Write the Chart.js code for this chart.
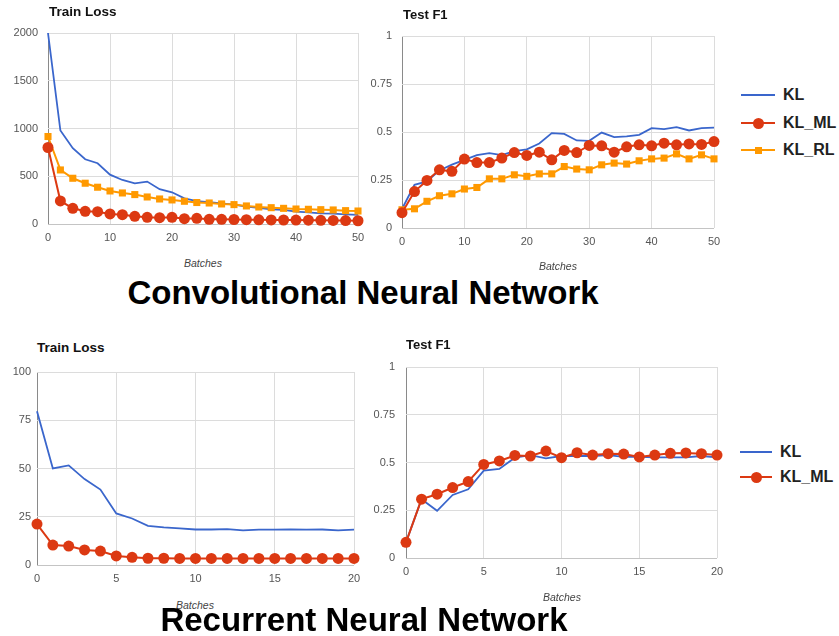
<!DOCTYPE html>
<html><head><meta charset="utf-8">
<script src="https://cdn.jsdelivr.net/npm/chart.js@4.4.1/dist/chart.umd.min.js"></script>
<style>
html,body{margin:0;padding:0;background:#fff;width:839px;height:636px;overflow:hidden;font-family:'Liberation Sans',Arial,sans-serif;}
canvas{position:absolute;}
.t{position:absolute;font-weight:bold;font-size:13px;color:#111;white-space:nowrap;transform:translateY(-50%);}
.b{position:absolute;font-style:italic;font-size:10.5px;color:#444;transform:translate(-50%,-50%);white-space:nowrap;}
.big{position:absolute;font-weight:bold;font-size:33px;color:#000;transform:translate(-50%,-50%);white-space:nowrap;}
.lg{position:absolute;height:20px;transform:translateY(-50%);white-space:nowrap;}
.ln{position:absolute;top:9px;height:2px;}
.mk{position:absolute;}
.lab{position:absolute;top:0;line-height:20px;font-weight:bold;font-size:16px;color:#222;}
</style>
</head><body>
<canvas id="c1"></canvas><canvas id="c2"></canvas><canvas id="c3"></canvas><canvas id="c4"></canvas>
<div class="t" style="left:49px;top:11px;font-size:13.5px">Train Loss</div>
<div class="t" style="left:403px;top:14px">Test F1</div>
<div class="t" style="left:37px;top:347px;font-size:13.5px">Train Loss</div>
<div class="t" style="left:406px;top:344px">Test F1</div>
<div class="b" style="left:203px;top:263px">Batches</div>
<div class="b" style="left:558px;top:266px">Batches</div>
<div class="b" style="left:195px;top:605px">Batches</div>
<div class="b" style="left:562px;top:597px">Batches</div>
<div class="big" style="left:363px;top:293px">Convolutional Neural Network</div>
<div class="big" style="left:364px;top:620px">Recurrent Neural Network</div>
<div id="legends"></div>
<script>
// ---------- data ----------
const cnnBatches = [0,2,4,6,8,10,12,14,16,18,20,22,24,26,28,30,32,34,36,38,40,42,44,46,48,50];
const cnnLossKL  = [2000,979,794,678,636,517,461,426,444,364,332,269,240,230,217,203,182,168,154,147,129,122,112,108,101,95];
const cnnLossML  = [801,241,164,133,129,105,98,80,70,66,70,56,59,49,49,47,45,44,43,42,41,40,38,37,36,34];
const cnnLossRL  = [916,566,479,427,385,346,325,308,283,262,252,238,225,220,210,203,189,178,171,164,157,154,150,147,140,136];
const cnnF1KL = [0.099,0.225,0.243,0.30,0.33,0.355,0.38,0.39,0.38,0.40,0.41,0.44,0.494,0.49,0.456,0.454,0.497,0.473,0.477,0.485,0.52,0.515,0.525,0.508,0.52,0.523];
const cnnF1ML = [0.08,0.19,0.248,0.303,0.295,0.359,0.341,0.341,0.364,0.393,0.378,0.395,0.355,0.404,0.393,0.43,0.428,0.395,0.423,0.433,0.428,0.442,0.433,0.438,0.435,0.45];
const cnnF1RL = [0.095,0.10,0.139,0.168,0.178,0.203,0.211,0.256,0.256,0.277,0.269,0.282,0.282,0.32,0.307,0.303,0.329,0.338,0.333,0.35,0.36,0.364,0.386,0.36,0.381,0.36];
const rnnBatches = [0,1,2,3,4,5,6,7,8,9,10,11,12,13,14,15,16,17,18,19,20];
const rnnLossKL = [79.7,50,51.6,44.5,39.1,26.7,24.1,20.3,19.5,19,18.4,18.4,18.6,17.9,18.3,18.3,18.4,18.3,18.4,17.9,18.3];
const rnnLossML = [21.2,10.3,9.8,7.8,7.2,4.7,4.0,3.5,3.5,3.4,3.4,3.4,3.4,3.4,3.4,3.4,3.4,3.4,3.4,3.4,3.4];
const rnnF1KL = [0.082,0.308,0.247,0.33,0.36,0.457,0.466,0.525,0.539,0.522,0.534,0.534,0.534,0.539,0.53,0.53,0.527,0.527,0.527,0.534,0.527];
const rnnF1ML = [0.082,0.308,0.334,0.369,0.40,0.49,0.508,0.537,0.534,0.56,0.525,0.551,0.539,0.546,0.544,0.529,0.539,0.548,0.55,0.546,0.539];
const seriesNames = ['KL','KL_ML','KL_RL'];
const cnnLossTicks = [0,500,1000,1500,2000];
const f1Ticks = [0,0.25,0.5,0.75,1];
const rnnLossTicks = [0,25,50,75,100];

// ---------- styles ----------
const COL = {KL:'#3a66cc', KL_ML:'#dc3912', KL_RL:'#ff9900'};
const FONT = "'Liberation Sans', Arial, sans-serif";

function ds(name, xs, ys) {
  const base = {label:name, data: xs.map((x,i)=>({x:x, y:ys[i]})), borderColor:COL[name], backgroundColor:COL[name],
    borderWidth:2, tension:0, clip:false, pointBorderWidth:0, pointHoverRadius:0};
  if (name==='KL') Object.assign(base,{pointRadius:0, order:3, borderWidth:1.8});
  if (name==='KL_ML') Object.assign(base,{pointRadius:5.5, pointStyle:'circle', order:1});
  if (name==='KL_RL') Object.assign(base,{pointRadius:5, pointStyle:'rect', order:2});
  return base;
}

function mk(id, P, xMax, xStep, yTicks, yPad, datasets) {
  const yW = 36, padT = 15, padR = 20, xH = 28;
  const cv = document.getElementById(id);
  const w = P.R - P.L + yW + padR, h = P.B - P.T + padT + xH;
  cv.width = w; cv.height = h;
  cv.style.left = (P.L - yW) + 'px'; cv.style.top = (P.T - padT) + 'px';
  cv.style.width = w + 'px'; cv.style.height = h + 'px';
  new Chart(cv, {
    type:'line',
    data:{datasets:datasets},
    options:{
      responsive:false, animation:false, devicePixelRatio:1,
      layout:{padding:{left:0, top:padT, right:padR, bottom:0}, autoPadding:false},
      plugins:{legend:{display:false}, tooltip:{enabled:false}},
      scales:{
        x:{type:'linear', min:0, max:xMax,
           ticks:{stepSize:xStep, color:'#555', font:{size:11, family:FONT}, padding:7, maxRotation:0, autoSkip:false},
           grid:{color:c=>c.tick && c.tick.value===0 ? '#8a8a8a' : '#dcdcdc', drawTicks:false, lineWidth:1},
           border:{display:false},
           afterFit:s=>{s.height = xH; s.paddingLeft = 0; s.paddingRight = 0;}},
        y:{type:'linear', min:yTicks[0], max:yTicks[yTicks.length-1],
           afterBuildTicks:s=>{s.ticks = yTicks.map(v=>({value:v}));},
           ticks:{color:'#555', font:{size:11, family:FONT}, padding:yPad, callback:v=>String(v)},
           grid:{color:c=>c.tick && c.tick.value===0 ? '#c4c4c4' : '#dcdcdc', drawTicks:false, lineWidth:1},
           border:{display:false},
           afterFit:s=>{s.width = yW; s.paddingTop = 0; s.paddingBottom = 0;}}
      }
    }
  });
}

mk('c1', {L:48,R:358,T:33,B:224}, 50, 10, cnnLossTicks, 10,
   [ds('KL',cnnBatches,cnnLossKL), ds('KL_ML',cnnBatches,cnnLossML), ds('KL_RL',cnnBatches,cnnLossRL)]);
mk('c2', {L:402,R:714,T:36,B:228}, 50, 10, f1Ticks, 10,
   [ds('KL',cnnBatches,cnnF1KL), ds('KL_ML',cnnBatches,cnnF1ML), ds('KL_RL',cnnBatches,cnnF1RL)]);
mk('c3', {L:37,R:354,T:372,B:565}, 20, 5, rnnLossTicks, 6,
   [ds('KL',rnnBatches,rnnLossKL), ds('KL_ML',rnnBatches,rnnLossML)]);
mk('c4', {L:406,R:717,T:367,B:558}, 20, 5, f1Ticks, 11,
   [ds('KL',rnnBatches,rnnF1KL), ds('KL_ML',rnnBatches,rnnF1ML)]);

// ---------- legends ----------
function legend(x, ys, names, lineW, gap) {
  const host = document.getElementById('legends');
  names.forEach((n,i)=>{
    const d = document.createElement('div'); d.className='lg';
    d.style.left = x+'px'; d.style.top = ys[i]+'px'; d.style.width='120px';
    let mkHtml = '';
    if (n==='KL_ML') mkHtml = `<div class="mk" style="left:${lineW/2-5.5}px;top:4.5px;width:11px;height:11px;border-radius:50%;background:${COL[n]}"></div>`;
    if (n==='KL_RL') mkHtml = `<div class="mk" style="left:${lineW/2-3.5}px;top:6.5px;width:7px;height:7px;background:${COL[n]}"></div>`;
    d.innerHTML = `<div class="ln" style="left:0;width:${lineW}px;background:${COL[n]}"></div>${mkHtml}<div class="lab" style="left:${lineW+gap}px">${n}</div>`;
    host.appendChild(d);
  });
}
legend(741, [95,123,150], seriesNames, 34, 8);
legend(740, [452,477], seriesNames.slice(0,2), 32, 8);
</script>
</body></html>
